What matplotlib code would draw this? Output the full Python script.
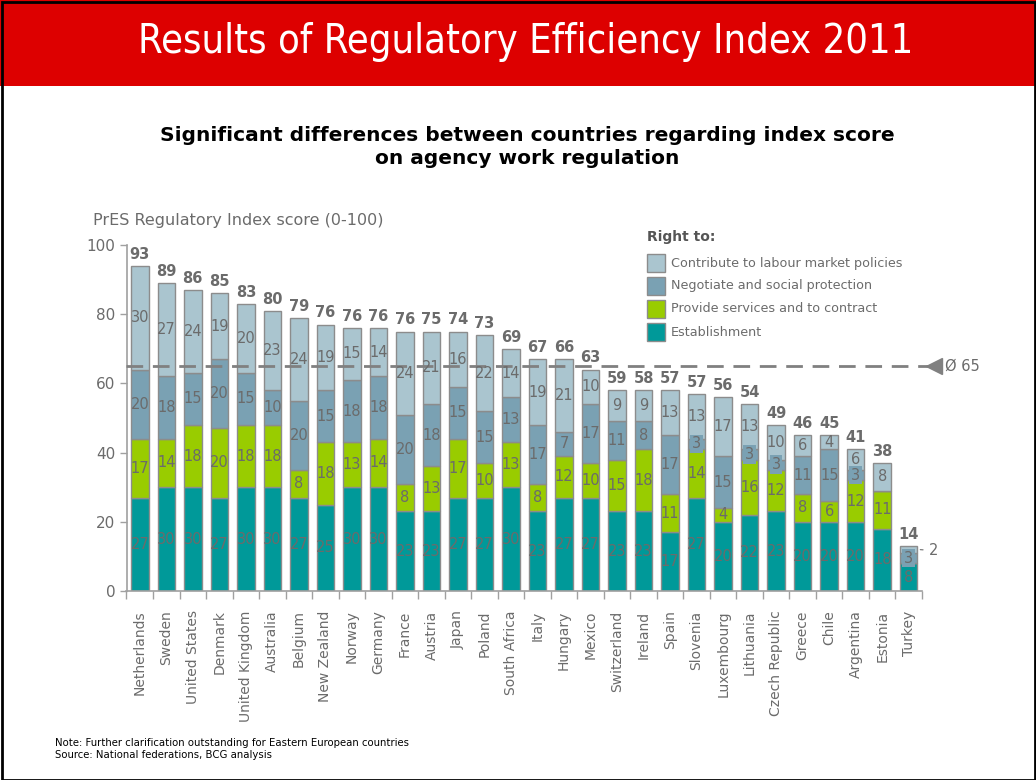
import matplotlib
matplotlib.use("Agg")
import matplotlib.pyplot as plt
from matplotlib.patches import Rectangle
import numpy as np

countries = ["Netherlands", "Sweden", "United States", "Denmark", "United Kingdom",
             "Australia", "Belgium", "New Zealand", "Norway", "Germany", "France",
             "Austria", "Japan", "Poland", "South Africa", "Italy", "Hungary", "Mexico",
             "Switzerland", "Ireland", "Spain", "Slovenia", "Luxembourg", "Lithuania",
             "Czech Republic", "Greece", "Chile", "Argentina", "Estonia", "Turkey"]
establishment = [27, 30, 30, 27, 30, 30, 27, 25, 30, 30, 23, 23, 27, 27, 30, 23, 27, 27,
                 23, 23, 17, 27, 20, 22, 23, 20, 20, 20, 18, 8]
services = [17, 14, 18, 20, 18, 18, 8, 18, 13, 14, 8, 13, 17, 10, 13, 8, 12, 10,
            15, 18, 11, 14, 4, 16, 12, 8, 6, 12, 11, 0]
negotiate = [20, 18, 15, 20, 15, 10, 20, 15, 18, 18, 20, 18, 15, 15, 13, 17, 7, 17,
             11, 8, 17, 3, 15, 3, 3, 11, 15, 3, 0, 3]
contribute = [30, 27, 24, 19, 20, 23, 24, 19, 15, 14, 24, 21, 16, 22, 14, 19, 21, 10,
              9, 9, 13, 13, 17, 13, 10, 6, 4, 6, 8, 2]
totals = [93, 89, 86, 85, 83, 80, 79, 76, 76, 76, 76, 75, 74, 73, 69, 67, 66, 63,
          59, 58, 57, 57, 56, 54, 49, 46, 45, 41, 38, 14]
average = 65
series_names = ["Establishment", "Provide services and to contract",
                "Negotiate and social protection", "Contribute to labour market policies"]
yticks = [0, 20, 40, 60, 80, 100]

colors = ["#009999", "#99CC00", "#7AA1B3", "#AAC5CF"]
edge = "#8C8C8C"
txt = "#6B6B6B"

W, H = 1036, 780
fig = plt.figure(figsize=(W / 100, H / 100), dpi=100)
fig.patch.set_facecolor("white")

# red banner
fig.add_artist(Rectangle((0, 1 - 86 / H), 1, 86 / H, transform=fig.transFigure,
                         facecolor="#DD0000", edgecolor="none"))
# frame
fig.add_artist(Rectangle((1.5 / W, 0), 1 - 3 / W, 1 - 1.5 / H, transform=fig.transFigure,
                         facecolor="none", edgecolor="black", lw=2))
fig.text(526 / W, 1 - 42 / H, "Results of Regulatory Efficiency Index 2011", color="white",
         fontsize=28.5, ha="center", va="center", family="DejaVu Sans", stretch="condensed")
fig.text(527 / W, 1 - 147 / H,
         "Significant differences between countries regarding index score\non agency work regulation",
         ha="center", va="center", fontsize=14.5, fontweight="bold", color="black",
         linespacing=1.25)
fig.text(93 / W, 1 - 220 / H, "PrES Regulatory Index score (0-100)", fontsize=11.5,
         color=txt, ha="left", va="center")

ax = fig.add_axes([126.5 / W, 1 - 591 / H, 795.5 / W, 346 / H])
x = np.arange(len(countries))
bw = 0.66
data = [establishment, services, negotiate, contribute]
bottom = np.zeros(len(countries))
for k, vals in enumerate(data):
    vals = np.array(vals, dtype=float)
    ax.bar(x, vals, bw, bottom=bottom, color=colors[k], edgecolor=edge, linewidth=1,
           zorder=2, label=series_names[k])
    for i, v in enumerate(vals):
        if v <= 0:
            continue
        yc = bottom[i] + v / 2
        if countries[i] == "Turkey" and k == 3:
            ax.annotate(str(int(v)), xy=(x[i] + bw / 2, yc), xytext=(x[i] + 0.75, yc - 0.3),
                        fontsize=10.5, color=txt, ha="left", va="center",
                        arrowprops=dict(arrowstyle="-", color=txt, lw=0.8), zorder=5)
        elif v <= 3:
            ax.text(x[i], yc, str(int(v)), ha="center", va="center", fontsize=10.5,
                    color=txt, zorder=5,
                    bbox=dict(boxstyle="square,pad=0.12", facecolor=colors[2], edgecolor="none"))
        else:
            ax.text(x[i], yc, str(int(v)), ha="center", va="center", fontsize=10.5,
                    color=txt, zorder=5)
    bottom += vals

for i, t in enumerate(totals):
    ax.text(x[i], bottom[i] + 1.2, str(t), ha="center", va="bottom", fontsize=10.5,
            fontweight="bold", color=txt, zorder=5)

ax.plot([-0.5, len(countries) - 0.2], [average, average], ls=(0, (6, 3.5)), color="#808080",
        lw=2, zorder=4, clip_on=False)
ax.plot([len(countries) - 0.05], [average], marker="<", markersize=11, color="#808080",
        clip_on=False, zorder=4)
ax.text(len(countries) + 0.35, average, "Ø " + str(average), fontsize=10.5, color=txt,
        ha="left", va="center")

ax.set_xlim(-0.5, len(countries) - 0.5)
ax.set_ylim(0, 100)
ax.set_yticks(yticks)
ax.set_yticklabels([str(v) for v in yticks], fontsize=11, color=txt)
ax.set_xticks(x)
ax.set_xticklabels(countries, rotation=90, fontsize=10, color=txt)
ax.tick_params(axis="x", length=0, pad=14)
ax.set_xticks(np.arange(len(countries) + 1) - 0.5, minor=True)
ax.tick_params(axis="x", which="minor", length=6, color="#A0A0A0", width=1)
ax.tick_params(axis="y", length=5, color="#A0A0A0", width=1, pad=3)
for s in ["top", "right"]:
    ax.spines[s].set_visible(False)
ax.spines["left"].set_color("#A0A0A0")
ax.spines["bottom"].set_color("#A0A0A0")
ax.spines["left"].set_linewidth(1.2)
ax.spines["bottom"].set_linewidth(1.2)

# legend
fig.text(647 / W, 1 - 237 / H, "Right to:", fontsize=10, fontweight="bold", color="#555555",
         ha="left", va="center")
leg_order = [3, 2, 1, 0]
for j, k in enumerate(leg_order):
    yc = 263 + 23 * j
    fig.add_artist(Rectangle((647 / W, 1 - (yc + 9) / H), 18 / W, 18 / H,
                             transform=fig.transFigure, facecolor=colors[k], edgecolor=edge, lw=1))
    fig.text(671 / W, 1 - yc / H, series_names[k], fontsize=9.2, color=txt,
             ha="left", va="center")

fig.text(55 / W, 1 - 743 / H, "Note: Further clarification outstanding for Eastern European countries",
         fontsize=7.3, color="black", ha="left", va="center")
fig.text(55 / W, 1 - 755 / H, "Source: National federations, BCG analysis",
         fontsize=7.3, color="black", ha="left", va="center")

fig.savefig("out.png", dpi=100, facecolor="white")
